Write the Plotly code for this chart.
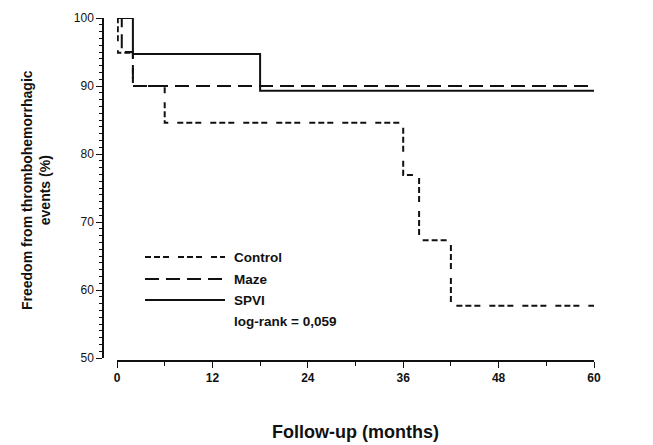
import plotly.graph_objects as go

# ---- data (Kaplan-Meier step curves) ----
control_t = [0, 0.1, 2, 6, 36, 38, 42, 60]
control_s = [100, 94.9, 90, 84.6, 76.9, 67.3, 57.7, 57.7]

maze_t = [0, 0.6, 2, 60]
maze_s = [100, 95, 90, 90]

spvi_t = [0, 2, 18, 60]
spvi_s = [100, 94.7, 89.3, 89.3]

series_names = ["Control", "Maze", "SPVI"]
x_ticks = [0, 12, 24, 36, 48, 60]
y_ticks = [50, 60, 70, 80, 90, 100]
log_rank_text = "log-rank = 0,059"

W, H = 653, 445
ML, MR, MT, MB = 95, 59, 18, 80
PW, PH = W - ML - MR, H - MT - MB

FONT = "Liberation Sans, Arial, sans-serif"
INK = "#111111"
dashes = {
    "Control": "6px,3px,6px,3px,6px,9px",
    "Maze": "14px,7px",
    "SPVI": "solid",
}

fig = go.Figure()
for name, t, s in zip(series_names, [control_t, maze_t, spvi_t], [control_s, maze_s, spvi_s]):
    fig.add_trace(go.Scatter(
        x=t, y=s, mode="lines", name=name, line_shape="hv",
        line=dict(color=INK, width=2, dash=dashes[name]),
        showlegend=False, hoverinfo="skip",
    ))

def px_x(px):
    return (px - ML) / PW

def px_y(py):
    return (H - MB - py) / PH

x_dom0 = px_x(117)
y_dom0 = px_y(358)
fig.update_layout(
    width=W, height=H,
    margin=dict(l=ML, r=MR, t=MT, b=MB),
    paper_bgcolor="white", plot_bgcolor="white",
    font=dict(family=FONT, color=INK, size=12),
    xaxis=dict(
        domain=[x_dom0, 1], range=[0, 60], anchor="free", position=px_y(361),
        tickmode="array", tickvals=x_ticks,
        ticktext=["<b>%d</b>" % v for v in x_ticks],
        ticks="outside", ticklen=6, tickwidth=1.3, tickcolor=INK,
        showline=True, linecolor=INK, linewidth=1.5,
        showgrid=False, zeroline=False,
        minor=dict(dtick=6, ticks="outside", ticklen=4, tickwidth=1.2, tickcolor=INK, showgrid=False),
        tickfont=dict(size=12, color=INK),
    ),
    yaxis=dict(
        domain=[y_dom0, 1], range=[50, 100], anchor="free", position=px_x(103),
        tickmode="array", tickvals=y_ticks, ticktext=[str(v) for v in y_ticks],
        ticks="outside", ticklen=6, tickwidth=1.3, tickcolor=INK,
        showline=True, linecolor=INK, linewidth=1.5,
        showgrid=False, zeroline=False,
        minor=dict(dtick=1, ticks="outside", ticklen=3, tickwidth=1, tickcolor=INK, showgrid=False),
        tickfont=dict(size=12, color=INK),
    ),
)

# axis titles
fig.add_annotation(
    text="<b>Follow-up (months)</b>", xref="paper", yref="paper",
    x=(x_dom0 + 1) / 2, y=px_y(432), xanchor="center", yanchor="middle",
    showarrow=False, font=dict(size=18, family=FONT, color=INK),
)
fig.add_annotation(
    text="<b>Freedom from thrombohemorrhagic<br>events (%)</b>", xref="paper", yref="paper",
    x=px_x(36), y=px_y(190), xanchor="center", yanchor="middle",
    textangle=-90, showarrow=False, font=dict(size=14, family=FONT, color=INK),
)

# legend drawn inside the plot
leg_y = [257, 279, 300]
for name, yy in zip(series_names, leg_y):
    fig.add_shape(type="line", xref="paper", yref="paper",
                  x0=px_x(145), x1=px_x(225), y0=px_y(yy), y1=px_y(yy),
                  line=dict(color=INK, width=2, dash=dashes[name]))
    fig.add_annotation(text="<b>%s</b>" % name, xref="paper", yref="paper",
                       x=px_x(232), y=px_y(yy), xanchor="left", yanchor="middle",
                       showarrow=False, font=dict(size=13.5, family=FONT, color=INK))
fig.add_annotation(text="<b>%s</b>" % log_rank_text, xref="paper", yref="paper",
                   x=px_x(232), y=px_y(321), xanchor="left", yanchor="middle",
                   showarrow=False, font=dict(size=13.5, family=FONT, color=INK))

fig.write_html("out.html")
